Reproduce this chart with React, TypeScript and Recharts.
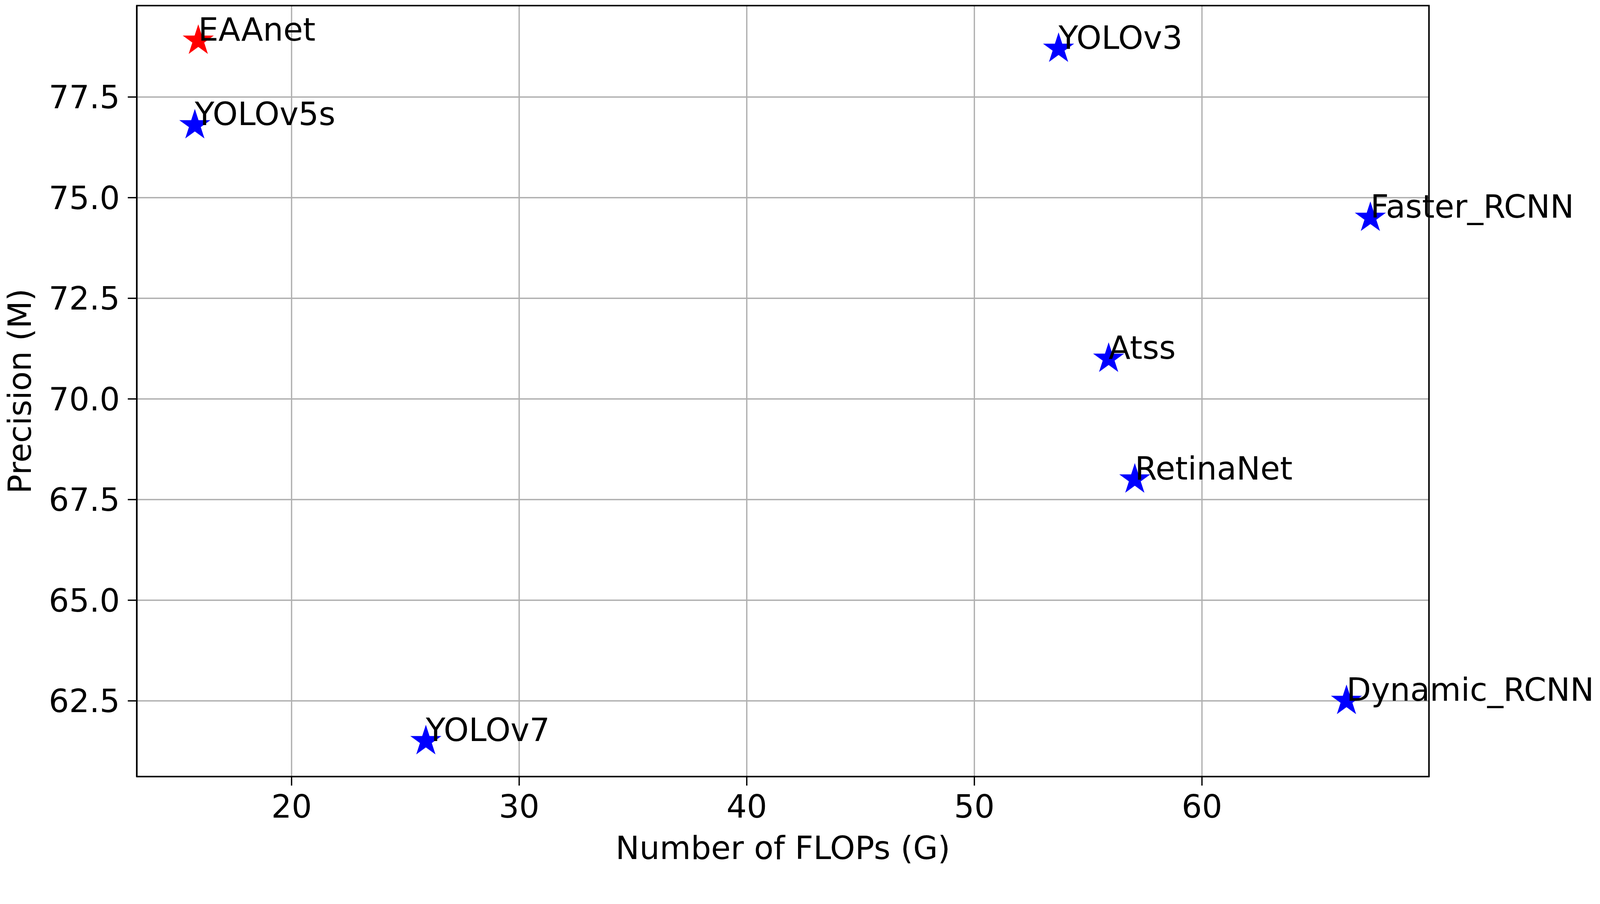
import React from 'react';
import { ScatterChart, Scatter, XAxis, YAxis, CartesianGrid, ReferenceArea } from 'recharts';

// Model names, FLOPs (G) and precision
const models = ['EAAnet', 'YOLOv5s', 'YOLOv3', 'Faster_RCNN', 'Atss', 'RetinaNet', 'Dynamic_RCNN', 'YOLOv7'];
const flops = [15.9, 15.75, 53.7, 67.4, 55.9, 57.05, 66.35, 25.9];
const precision = [78.9, 76.8, 78.7, 74.5, 71.0, 68.0, 62.5, 61.5];
const highlighted = ['EAAnet'];

const xTicks = [20, 30, 40, 50, 60];
const yTicks = [62.5, 65.0, 67.5, 70.0, 72.5, 75.0, 77.5];
const xDomain = [13.2, 69.975];
const yDomain = [60.62, 79.77];

// the captured frame comes out ~4% smaller than the window, so scale the layout down
const K = 4096 / 4257;
const px = (v: number) => v * K;

const font = '"DejaVu Sans", sans-serif';
const fontSize = px(85);

const points = models.map((name, i) => ({ name, x: flops[i], y: precision[i] }));
const ours = points.filter((p) => highlighted.includes(p.name));
const others = points.filter((p) => !highlighted.includes(p.name));

// matplotlib-style '*' marker plus annotation text at the data point
function StarMarker(props: any) {
  const { cx, cy, payload, fill } = props;
  const R = px(41);
  const r = R * 0.381966;
  const pts: string[] = [];
  for (let k = 0; k < 10; k++) {
    const rad = k % 2 === 0 ? R : r;
    const a = (-90 + k * 36) * (Math.PI / 180);
    pts.push(`${cx + rad * Math.cos(a)},${cy + rad * Math.sin(a)}`);
  }
  return (
    <g>
      <polygon points={pts.join(' ')} fill={fill} stroke={fill} strokeWidth={1.5} />
      <text x={cx} y={cy} fontFamily={font} fontSize={fontSize} fill="#000">
        {payload.name}
      </text>
    </g>
  );
}

export default function App() {
  const yLabelX = px(82);
  const yLabelY = px(1040);
  return (
    <div style={{ position: 'absolute', left: 0, top: 0, background: '#fff' }}>
      <ScatterChart
        width={px(4257)}
        height={px(2313)}
        margin={{ top: px(15), right: px(455), bottom: 0, left: 0 }}
      >
        <CartesianGrid stroke="#b0b0b0" strokeWidth={px(3.5)} />
        <XAxis
          type="number"
          dataKey="x"
          domain={xDomain}
          ticks={xTicks}
          height={px(248)}
          tickSize={px(24)}
          tickMargin={px(25)}
          axisLine={{ stroke: '#000', strokeWidth: px(4) }}
          tickLine={{ stroke: '#000', strokeWidth: px(3.5) }}
          tick={{ fill: '#000', fontSize, fontFamily: font }}
          label={{
            content: () => (
              <text x={px(2083)} y={px(2284)} textAnchor="middle" fontFamily={font} fontSize={fontSize} fill="#000">
                Number of FLOPs (G)
              </text>
            ),
          }}
        />
        <YAxis
          type="number"
          dataKey="y"
          domain={yDomain}
          ticks={yTicks}
          width={px(364)}
          tickSize={px(24)}
          tickMargin={px(21)}
          tickFormatter={(v: number) => v.toFixed(1)}
          axisLine={{ stroke: '#000', strokeWidth: px(4) }}
          tickLine={{ stroke: '#000', strokeWidth: px(3.5) }}
          tick={{ fill: '#000', fontSize, fontFamily: font }}
          label={{
            content: () => (
              <text
                x={yLabelX}
                y={yLabelY}
                transform={`rotate(-90, ${yLabelX}, ${yLabelY})`}
                textAnchor="middle"
                fontFamily={font}
                fontSize={fontSize}
                fill="#000"
              >
                Precision (M)
              </text>
            ),
          }}
        />
        <ReferenceArea
          x1={xDomain[0]}
          x2={xDomain[1]}
          y1={yDomain[0]}
          y2={yDomain[1]}
          fill="none"
          stroke="#000"
          strokeWidth={px(4)}
          ifOverflow="visible"
        />
        <Scatter data={others} fill="#0000ff" shape={<StarMarker />} isAnimationActive={false} />
        <Scatter data={ours} fill="#ff0000" shape={<StarMarker />} isAnimationActive={false} />
      </ScatterChart>
    </div>
  );
}
